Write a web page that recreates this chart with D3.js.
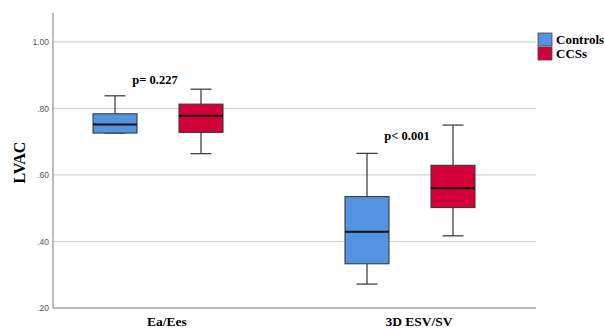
<!DOCTYPE html>
<html>
<head>
<meta charset="utf-8">
<script src="https://cdn.jsdelivr.net/npm/d3@7"></script>
<style>
  html, body { margin: 0; padding: 0; background: #fff; }
  svg { display: block; }
  .serif { font-family: "Liberation Serif", "DejaVu Serif", "Times New Roman", Times, serif; font-weight: bold; }
</style>
</head>
<body>
<svg id="chart" width="604" height="329"></svg>
<script>
// Measures and groups
const categories = ["Ea/Ees", "3D ESV/SV"];
const groups = ["Controls", "CCSs"];
const groupColors = ["#5592e0", "#d4003a"];

// Box statistics per measure: [min, q1, median, q3, max]
const controlsStats = [
  [0.726, 0.726, 0.752, 0.784, 0.838],
  [0.272, 0.333, 0.429, 0.535, 0.665]
];
const ccssStats = [
  [0.664, 0.728, 0.778, 0.813, 0.858],
  [0.417, 0.502, 0.560, 0.629, 0.750]
];
const pLabels = ["p= 0.227", "p< 0.001"];
const yTicks = [0.2, 0.4, 0.6, 0.8, 1.0];

const svg = d3.select("#chart");
const plotLeft = 53, plotRight = 536, plotTop = 13, plotBottom = 308;

const y = d3.scaleLinear().domain([0.2, 1.087]).range([plotBottom, plotTop]);
const x = d3.scalePoint().domain(categories).range([158, 410]);
const xg = d3.scalePoint().domain(groups).range([-43, 43]);
const boxW = 44;

// gridlines
svg.append("g")
  .selectAll("line")
  .data(yTicks.filter(t => t > 0.2))
  .join("line")
  .attr("x1", plotLeft).attr("x2", plotRight)
  .attr("y1", d => y(d)).attr("y2", d => y(d))
  .attr("stroke", "#d4d4d4").attr("stroke-width", 1.2);

// y axis
const yAxis = d3.axisLeft(y).tickValues(yTicks).tickSize(0).tickPadding(4)
  .tickFormat(d => d3.format(".2f")(d).replace(/^0/, ""));
const ya = svg.append("g").attr("transform", `translate(${plotLeft},0)`).call(yAxis);
ya.select(".domain").attr("stroke", "#a6a6a6").attr("stroke-width", 1.5)
  .attr("d", `M0,${plotTop}V${plotBottom}`);
ya.selectAll("text").attr("font-family", "Arial, 'Liberation Sans', sans-serif")
  .attr("font-size", 8.5).attr("fill", "#555");

// x baseline
svg.append("line").attr("x1", plotLeft).attr("x2", plotRight)
  .attr("y1", plotBottom).attr("y2", plotBottom)
  .attr("stroke", "#a6a6a6").attr("stroke-width", 1.5);

// category labels
svg.append("g").selectAll("text").data(categories).join("text")
  .attr("class", "serif")
  .attr("x", d => x(d) + 9)
  .attr("y", 326)
  .attr("text-anchor", "middle")
  .attr("font-size", 13.5)
  .text(d => d);

// y axis title
svg.append("text")
  .attr("class", "serif")
  .attr("transform", `translate(25,${(plotTop + plotBottom) / 2 + 2}) rotate(-90)`)
  .attr("text-anchor", "middle")
  .attr("font-size", 16)
  .text("LVAC");

// boxes
const allStats = [controlsStats, ccssStats];
const capW = 21;
groups.forEach((g, gi) => {
  categories.forEach((c, ci) => {
    const s = allStats[gi][ci];
    const cx = x(c) + xg(g);
    const x0 = cx - boxW / 2;
    const box = svg.append("g");
    box.append("line").attr("x1", cx).attr("x2", cx)
      .attr("y1", y(s[4])).attr("y2", y(s[3]))
      .attr("stroke", "#333").attr("stroke-width", 1.2);
    box.append("line").attr("x1", cx).attr("x2", cx)
      .attr("y1", y(s[1])).attr("y2", y(s[0]))
      .attr("stroke", "#333").attr("stroke-width", 1.2);
    [s[0], s[4]].forEach(v => {
      box.append("line").attr("x1", cx - capW / 2).attr("x2", cx + capW / 2)
        .attr("y1", y(v)).attr("y2", y(v))
        .attr("stroke", "#333").attr("stroke-width", 1.2);
    });
    box.append("rect").attr("x", x0).attr("width", boxW)
      .attr("y", y(s[3])).attr("height", y(s[1]) - y(s[3]))
      .attr("fill", groupColors[gi]).attr("stroke", "#3a3a3a").attr("stroke-width", 1.1);
    box.append("line").attr("x1", x0).attr("x2", x0 + boxW)
      .attr("y1", y(s[2])).attr("y2", y(s[2]))
      .attr("stroke", "#111").attr("stroke-width", 2);
  });
});

// p-value annotations
svg.append("g").selectAll("text").data(categories).join("text")
  .attr("class", "serif")
  .attr("x", d => x(d) - 3)
  .attr("y", (d, i) => y(Math.max(controlsStats[i][4], ccssStats[i][4])) - (i === 0 ? 5 : -15))
  .attr("text-anchor", "middle")
  .attr("font-size", 12.5)
  .text((d, i) => pLabels[i]);

// legend
const lg = svg.append("g").attr("transform", "translate(538,33)");
groups.forEach((g, i) => {
  lg.append("rect").attr("x", 0).attr("y", i * 14).attr("width", 14).attr("height", 13)
    .attr("fill", groupColors[i]).attr("stroke", "#444").attr("stroke-width", 0.8);
  lg.append("text").attr("class", "serif").attr("x", 18).attr("y", i * 14 + 11)
    .attr("font-size", 13)
    .text(g);
});
</script>
</body>
</html>
